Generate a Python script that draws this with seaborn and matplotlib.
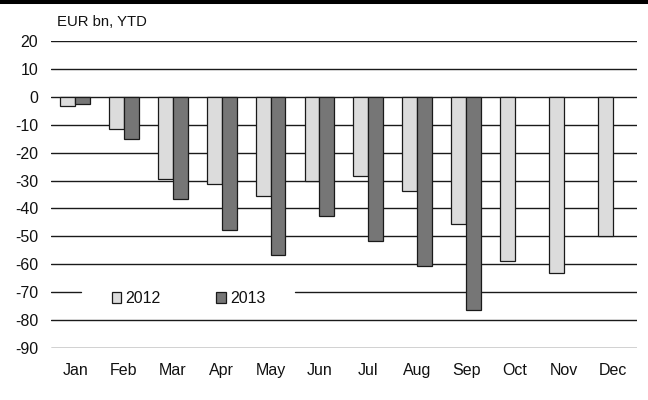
import matplotlib
matplotlib.use("Agg")
import matplotlib.pyplot as plt
import seaborn as sns
import numpy as np
import pandas as pd
from matplotlib.patches import Patch
from matplotlib.lines import Line2D

months = ["Jan", "Feb", "Mar", "Apr", "May", "Jun",
          "Jul", "Aug", "Sep", "Oct", "Nov", "Dec"]
ytd_2012 = [-3.3, -11.4, -29.4, -31.4, -35.7, -30.0,
            -28.2, -33.9, -45.5, -58.7, -63.1, -49.7]
ytd_2013 = [-2.4, -15.1, -36.7, -47.7, -56.6, -42.6,
            -51.5, -60.6, -76.4, np.nan, np.nan, np.nan]
years = ["2012", "2013"]
yticks = list(range(20, -100, -10))

colors = {"2012": "#dcdcdc", "2013": "#767676"}

df = pd.concat([
    pd.DataFrame({"month": months, "value": ytd_2012, "year": "2012"}),
    pd.DataFrame({"month": months, "value": ytd_2013, "year": "2013"}),
], ignore_index=True)

sns.set_style("white")
plt.rcParams["font.family"] = ["Liberation Sans", "DejaVu Sans"]
plt.rcParams["text.color"] = "#111111"

fig = plt.figure(figsize=(6.48, 4.0), dpi=100)
ax = fig.add_axes([0.0782, 0.13, 0.905, 0.7675])

sns.barplot(data=df, x="month", y="value", hue="year", order=months,
            hue_order=years, palette=colors, width=0.61, gap=0,
            edgecolor="#1a1a1a", linewidth=0.9, errorbar=None,
            legend=False, ax=ax, zorder=3)

ax.set_ylim(-90, 20)
ax.set_xlim(-0.5, 11.5)
ax.set_yticks(yticks)
ax.set_yticklabels([str(t) for t in yticks])
ax.set_xlabel("")
ax.set_ylabel("")
for s in ax.spines.values():
    s.set_visible(False)
ax.tick_params(axis="both", length=0, labelsize=11.5, colors="#111111")
ax.tick_params(axis="y", pad=9)
ax.tick_params(axis="x", pad=11)

# horizontal rules; the -70 rule is interrupted behind the legend
for t in yticks:
    if t == -70:
        ax.axhline(t, xmin=0, xmax=0.052, color="#1a1a1a", lw=1.0, zorder=1)
        ax.axhline(t, xmin=0.417, xmax=1, color="#1a1a1a", lw=1.0, zorder=1)
    else:
        ax.axhline(t, color="#1a1a1a", lw=1.0, zorder=1)

handles = [Patch(facecolor=colors[y], edgecolor="#1a1a1a", linewidth=0.9)
           for y in years]
ax.legend(handles, years, loc="center", bbox_to_anchor=(0.235, 0.161),
          ncol=2, frameon=False, fontsize=11.5, handlelength=0.6,
          handleheight=0.6, handletextpad=0.25, columnspacing=3.5)

fig.text(57 / 648, 1 - 21.7 / 400, "EUR bn, YTD", fontsize=10.7,
         va="center", ha="left")
fig.add_artist(Line2D([0, 1], [0.995, 0.995], transform=fig.transFigure,
                      color="black", lw=2.9))

fig.savefig("out.png", dpi=100)
